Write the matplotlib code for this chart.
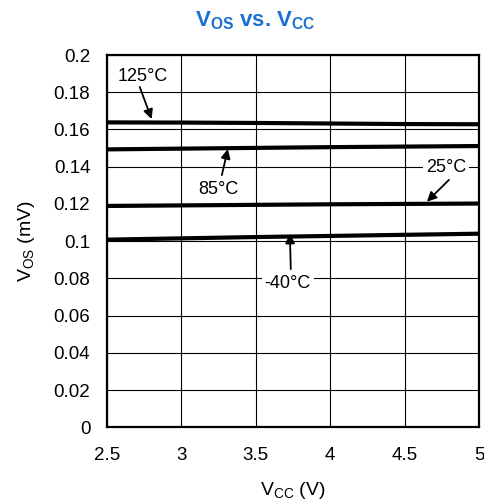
import matplotlib
matplotlib.use("Agg")
import matplotlib.pyplot as plt

plt.rcParams['font.family'] = ['Liberation Sans', 'DejaVu Sans']
plt.rcParams['mathtext.fontset'] = 'custom'
plt.rcParams['mathtext.rm'] = 'Liberation Sans'
plt.rcParams['mathtext.bf'] = 'Liberation Sans:bold'

vcc = [2.5, 3.0, 3.5, 4.0, 4.5, 5.0]
vos_125 = [0.1638, 0.1637, 0.1635, 0.1632, 0.1629, 0.1628]
vos_85 = [0.1493, 0.1497, 0.1501, 0.1505, 0.1508, 0.1511]
vos_25 = [0.1189, 0.1192, 0.1195, 0.1198, 0.1200, 0.1202]
vos_m40 = [0.1008, 0.1015, 0.1022, 0.1028, 0.1034, 0.1040]

xticks = [2.5, 3, 3.5, 4, 4.5, 5]
xtick_labels = ['2.5', '3', '3.5', '4', '4.5', '5']
yticks = [0, 0.02, 0.04, 0.06, 0.08, 0.1, 0.12, 0.14, 0.16, 0.18, 0.2]
ytick_labels = ['0', '0.02', '0.04', '0.06', '0.08', '0.1', '0.12', '0.14', '0.16', '0.18', '0.2']

labels = ['125°C', '85°C', '25°C', '-40°C']
label_pos = [(2.737, 0.1883), (3.251, 0.1280), (4.778, 0.1393), (3.715, 0.0775)]
arrow_tail = [(2.72, 0.1828), (3.272, 0.1355), (4.798, 0.1329), (3.735, 0.0850)]
arrow_tip = [(2.80, 0.1656), (3.312, 0.1495), (4.65, 0.1212), (3.729, 0.1040)]

fig = plt.figure(figsize=(4.85, 5.04), dpi=100)
ax = fig.add_axes([107/485, 1-427.3/504, (479-107)/485, (427.3-55)/504])

for s in [vos_125, vos_85, vos_25, vos_m40]:
    ax.plot(vcc, s, color='black', lw=3, solid_capstyle='butt', zorder=3)

ax.set_xlim(2.5, 5)
ax.set_ylim(0, 0.2)
ax.set_xticks(xticks)
ax.set_xticklabels(xtick_labels, fontsize=13.5)
ax.set_yticks(yticks)
ax.set_yticklabels(ytick_labels, fontsize=13.5)
ax.tick_params(axis='x', length=0, pad=14)
ax.tick_params(axis='y', length=0, pad=12)
ax.grid(True, color='black', lw=0.8)
for sp in ax.spines.values():
    sp.set_linewidth(1.6)

arrowprops = dict(arrowstyle='-|>', color='black', lw=1.3, mutation_scale=14, shrinkA=0, shrinkB=0)
bbox = dict(boxstyle='square,pad=0.15', fc='white', ec='none')
for lab, pos, tail, tip in zip(labels, label_pos, arrow_tail, arrow_tip):
    ax.text(pos[0], pos[1], lab, fontsize=13, ha='center', va='center', bbox=bbox, zorder=4)
    ax.annotate('', xy=tip, xytext=tail, arrowprops=arrowprops, zorder=5)

ax.set_xlabel(r'V$_{\mathrm{CC}}$ (V)', fontsize=14, labelpad=12)
ax.set_ylabel(r'V$_{\mathrm{OS}}$ (mV)', fontsize=14, labelpad=12)
fig.text(255/485, 1-21/504, r'$\mathbf{V_{OS}}$ vs. $\mathbf{V_{CC}}$', fontsize=16, fontweight='bold',
         color='#1a70d2', ha='center', va='center')

fig.savefig('out.png', dpi=100)
